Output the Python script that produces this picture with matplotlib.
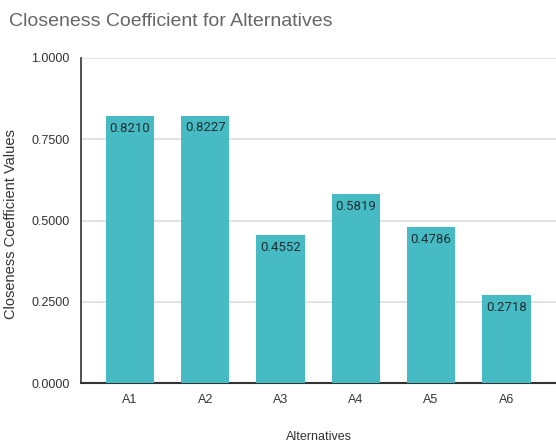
import matplotlib.pyplot as plt

alternatives = ["A1", "A2", "A3", "A4", "A5", "A6"]
closeness = [0.8210, 0.8227, 0.4552, 0.5819, 0.4786, 0.2718]
y_ticks = [0.0, 0.25, 0.5, 0.75, 1.0]

plt.rcParams['font.family'] = ['Liberation Sans', 'DejaVu Sans']

fig = plt.figure(figsize=(5.56, 4.47), dpi=100)
# axes box in pixels: left 81, right 556, top 58, bottom 383
ax = fig.add_axes([81 / 556, 1 - 383 / 447, (556 - 81) / 556, (383 - 58) / 447])

x = range(len(alternatives))
bars = ax.bar(x, closeness, width=0.644, color='#47BBC4', zorder=3)

for b, v in zip(bars, closeness):
    ax.text(b.get_x() + b.get_width() / 2, v - 0.018, f"{v:.4f}",
            ha='center', va='top', fontsize=9.5, color='#1f2f33',
            family=['Roboto', 'DejaVu Sans'], zorder=4)

ax.set_xlim(-0.65, 5.66)
ax.set_ylim(0, 1.0)
ax.set_xticks(list(x))
ax.set_xticklabels(alternatives, fontsize=9, color='#333333')
ax.set_yticks(y_ticks)
ax.set_yticklabels([f"{t:.4f}" for t in y_ticks], fontsize=9, color='#333333')
ax.tick_params(axis='both', length=0, pad=8)

ax.grid(axis='y', color='#dddddd', linewidth=1.2, zorder=0)
for s in ['top', 'right']:
    ax.spines[s].set_visible(False)
ax.spines['left'].set_color('#333333')
ax.spines['bottom'].set_color('#333333')
ax.spines['left'].set_linewidth(1.2)
ax.spines['bottom'].set_linewidth(1.5)

ax.set_xlabel("Alternatives", fontsize=9, color='#333333')
ax.xaxis.set_label_coords(0.5, -0.148)
ax.set_ylabel("Closeness Coefficient Values", fontsize=10.5, color='#333333')
ax.yaxis.set_label_coords(-0.133, 0.49)

fig.text(9 / 556, 1 - 21 / 447, "Closeness Coefficient for Alternatives",
         fontsize=14, color='#666666', va='center', ha='left')

fig.savefig("out.png", dpi=100)
